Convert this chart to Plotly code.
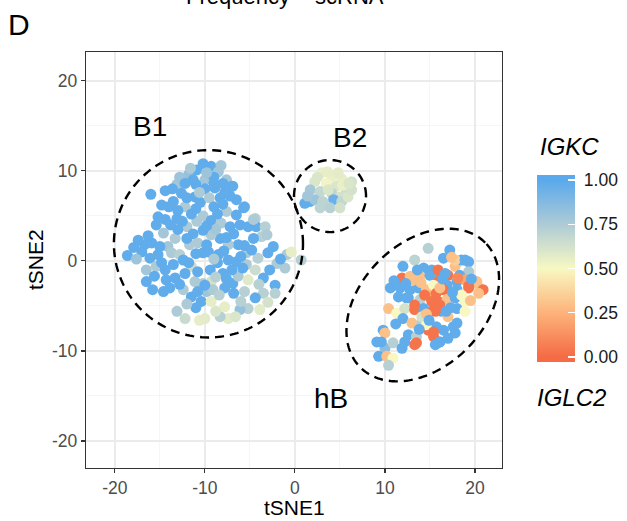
import numpy as np
import plotly.graph_objects as go

# ---------------- data ----------------
b1 = [(-16.0,7.4,.98),(-14.4,7.8,.98),(-13.1,8.5,.78),(-11.8,9.6,.82),(-10.9,10.1,.98),(-10.0,9.0,.78),
      (-12.6,7.5,.98),(-13.5,6.6,.98),(-12.2,6.0,.75),(-11.1,7.1,.98),(-15.2,4.9,.98),(-14.4,4.6,.98),
      (-13.1,4.7,.98),(-12.0,3.8,.75),(-10.9,4.4,.75),(-15.4,4.0,.98),(-14.6,3.1,.78),(-17.4,2.3,.98),
      (-16.7,1.8,.98),(-15.9,2.0,.98),(-18.6,0.6,.98),(-17.0,1.0,.98),(-16.1,0.3,.98),(-15.2,0.7,.98),
      (-14.1,1.6,.78),(-13.3,2.5,.75),(-13.7,0.9,.75),(-12.8,0.7,.72),(-11.7,1.8,.75),(-16.5,-1.0,.78),
      (-15.4,-0.6,.75),(-14.4,-1.0,.98),(-13.5,-0.4,.98),(-12.4,0.1,.98),(-11.5,-0.6,.65),(-10.2,0.9,.98),
      (-16.5,-2.3,.98),(-15.6,-1.7,.98),(-14.3,-2.1,.98),(-13.3,-1.9,.98),(-12.2,-1.4,.98),(-11.1,-2.3,.75),
      (-10.2,-2.5,.75),(-9.3,-2.3,.62),(-13.9,-3.0,.98),(-12.4,-3.2,.75),(-11.5,-4.0,.98),(-10.4,-4.5,.98),
      (-9.8,-3.4,.8),(-13.1,-5.6,.75),(-12.2,-6.4,.66),(-10.6,-6.6,.56),(-10.0,-6.4,.57),
      (-17.9,1.5,.98),(-16.3,2.8,.98),(-15.0,1.6,.98),(-14.8,-0.2,.98),(-17.6,0.2,.8),
      (-9.3,10.5,.98),(-8.5,9.9,.78),(-7.6,9.0,.78),(-6.9,8.3,.98),(-6.5,6.8,.98),(-5.6,6.0,.98),
      (-4.4,4.7,.72),(-8.9,8.1,.98),(-8.3,7.0,.98),(-7.6,5.5,.75),(-6.5,5.1,.98),(-6.1,4.0,.98),
      (-5.2,3.8,.98),(-4.3,3.8,.98),(-3.3,3.8,.72),(-3.7,2.7,.72),(-4.6,2.5,.98),(-2.4,1.6,.98),
      (-3.0,0.9,.98),(-0.9,0.7,.75),(-0.4,1.0,.56),(-2.0,-0.3,.75),(-1.1,-0.8,.75),(-4.1,0.3,.72),
      (-5.4,0.9,.75),(-6.3,1.8,.98),(-7.4,1.8,.75),(-8.3,2.5,.98),(-9.3,2.9,.75),(-9.6,1.0,.98),
      (-8.5,0.7,.98),(-7.4,0.1,.98),(-6.5,-0.1,.98),(-5.4,-0.4,.75),(-4.4,-1.0,.65),(-3.5,-1.9,.98),
      (-2.2,-2.7,.98),(-2.2,-3.6,.72),(-3.5,-3.6,.72),(-4.4,-4.1,.98),(-3.9,-5.4,.57),(-5.2,-5.3,.72),
      (-6.1,-5.4,.82),(-7.4,-6.4,.57),(-8.3,-6.2,.72),(-7.8,-5.1,.56),(-9.3,-4.5,.56),(-9.1,-3.2,.75),
      (-7.8,-3.0,.98),(-6.9,-2.5,.98),(-6.3,-1.7,.75),(-5.2,-2.1,.58),(-5.6,-3.4,.72),(-8.0,-1.4,.98),
      (-7.0,-1.0,.98),(-9.4,-1.0,.98),(-10.0,-2.7,.98),(0.7,0.1,.72),(-3.1,2.9,.75),(-4.6,4.6,.75),
      (-5.7,5.9,.98),(-7.0,8.3,.98),
      (-11.0,8.5,.98),(-10.0,8.0,.98),(-9.0,9.3,.98),(-8.0,8.6,.98),(-10.5,6.5,.98),(-9.5,7.0,.75),
      (-9.0,6.0,.98),(-8.0,6.3,.98),(-7.2,7.2,.98),(-11.5,5.2,.98),(-10.2,5.0,.75),(-9.3,4.5,.98),
      (-8.2,4.2,.75),(-7.2,3.8,.98),(-11.3,3.0,.98),(-10.2,3.4,.98),(-8.8,3.5,.78),(-7.6,2.6,.98),
      (-6.8,3.0,.98),(-5.6,1.7,.98),(-4.8,1.2,.98),(-10.8,2.0,.75),(-9.8,1.8,.98),(-11.0,0.8,.98),
      (-8.6,-0.2,.98),(-5.8,-0.8,.98),(-10.8,-1.2,.98),(-8.8,-1.8,.72),(-7.6,-2.0,.98),(-6.8,-3.6,.98),
      (-8.4,-3.8,.72),(-10.8,-3.4,.98),(-12.8,-2.6,.98),(-13.0,3.5,.98),(-12.0,2.5,.98),(-14.0,6.0,.98),
      (-12.8,9.3,.8),(-11.6,10.3,.75),(-10.2,10.8,.98),(-12.2,8.6,.98),
      (-9.8,9.8,.8),(-8.2,10.6,.78),(-11.3,9.0,.98),(-13.6,8.0,.98),(-10.6,7.6,.75),(-9.0,8.6,.98),
      (-7.8,7.6,.98),(-12.0,7.0,.98),(-14.8,6.2,.98),(-13.0,5.6,.98),(-11.0,5.8,.98),(-8.6,5.2,.98),
      (-9.8,3.9,.98),(-12.5,4.4,.98),(-13.8,4.0,.98),(-11.8,-0.2,.98),(-9.0,0.2,.75),(-7.9,1.1,.98),
      (-6.0,0.5,.98),(-4.0,-2.6,.72),(-6.0,-4.5,.72),(-8.8,-5.6,.6),(-11.0,-5.2,.98),(-12.0,-4.8,.75),
      (-14.6,-3.4,.98),(-15.8,-3.2,.98),(-2.8,-1.0,.98),(-1.6,0.2,.98),(-3.0,-4.6,.62),(-6.6,-6.2,.6)]

b2 = [(3.0,9.8,.55),(4.1,9.4,.55),(5.2,9.1,.56),(6.3,8.8,.62),(2.2,8.8,.6),(3.5,8.6,.52),(4.6,8.3,.6),
      (5.7,7.9,.65),(1.7,7.9,.77),(2.8,7.7,.68),(4.1,7.5,.7),(5.0,7.1,.62),(1.1,6.4,.98),(1.7,6.6,.98),
      (2.2,6.8,.8),(3.1,6.6,.7),(4.3,6.8,.95),(5.2,6.6,.68),(2.8,5.9,.7),(3.9,5.9,.72),(5.0,5.9,.62),
      (5.9,7.1,.6),(6.3,7.9,.62),(3.6,9.9,.56),(2.5,9.3,.6),(4.8,9.8,.57),(3.7,7.9,.6),(5.3,8.4,.55),
      (6.0,8.6,.6),(1.4,7.2,.78)]

hb = [(14.8,1.4,.72),(17.2,1.2,.98),(13.3,0.1,.7),(14.3,-0.8,.98),(15.2,-1.0,.98),(16.1,-1.4,.98),
      (17.0,-1.6,.03),(17.8,-0.6,.3),(18.5,0.1,.98),(19.3,-0.1,.98),(19.3,-1.2,.75),(18.3,-1.6,.98),
      (11.9,-1.9,.03),(12.8,-1.7,.3),(13.9,-1.7,.3),(15.0,-1.6,.98),(15.9,-2.3,.03),(16.9,-2.7,.98),
      (18.0,-2.3,.98),(18.9,-2.1,.2),(20.2,-2.3,.3),(20.7,-3.2,.03),(19.3,-3.0,.03),(18.0,-3.2,.98),
      (16.5,-3.2,.03),(10.6,-3.0,.98),(11.7,-3.0,.98),(12.8,-3.2,.98),(13.7,-3.0,.98),(14.6,-3.2,.3),
      (15.4,-2.7,.5),(11.5,-4.0,.98),(12.4,-4.1,.98),(13.9,-4.3,.72),(15.2,-4.3,.03),(15.9,-4.5,.03),
      (16.9,-4.3,.3),(17.8,-4.1,.98),(18.9,-4.5,.5),(18.0,-5.3,.98),(10.4,-5.3,.3),(11.3,-5.8,.5),
      (12.2,-5.3,.62),(13.3,-5.4,.03),(14.3,-5.3,.98),(15.4,-5.4,.03),(16.3,-5.6,.98),(17.0,-6.2,.3),
      (12.0,-6.4,.98),(13.0,-6.9,.3),(14.1,-6.9,.72),(14.8,-7.7,.03),(15.7,-7.3,.98),(16.5,-7.7,.98),
      (17.6,-7.3,.98),(17.8,-8.0,.98),(12.6,-8.2,.98),(13.5,-8.4,.72),(15.4,-8.4,.03),(16.1,-9.0,.98),
      (13.5,-9.1,.03),(9.8,-7.7,.98),(10.0,-8.0,.3),(9.1,-9.0,.98),(10.0,-9.7,.85),(10.9,-9.1,.72),
      (11.9,-9.7,.98),(9.3,-10.6,.98),(10.2,-10.6,.3),(10.9,-10.8,.5),(10.4,-11.6,.72),(15.6,-4.7,.03),
      (15.0,-4.0,.2),(15.7,-3.6,.03),(14.4,-3.8,.03),(16.1,-3.0,.3),(12.6,-4.1,.98),(13.3,-4.9,.03),
      (14.1,-6.2,.62),(14.6,-7.1,.5),(13.3,-9.3,.03),(9.6,-9.0,.98),(16.5,0.3,.98),(17.8,0.1,.35),
      (18.9,0.1,.98),(15.9,-1.0,.03),(16.7,-1.4,.98),(18.1,-1.9,.1),(20.2,-2.5,.3),(20.9,-3.2,.03),
      (19.3,-2.8,.03),(18.5,-3.8,.5),(20.4,-3.6,.3),(18.9,-5.6,.5),(18.0,-6.9,.98),(15.6,-5.6,.03),
      (15.2,-4.5,.03),(16.1,-4.9,.03),(15.4,-7.9,.03),(16.1,-9.0,.98),(15.6,-9.3,.98),
      (11.0,-2.2,.98),(12.0,-0.6,.98),(14.0,-2.4,.3),(17.3,-5.2,.98),(14.6,-5.9,.3),(16.8,-5.6,.98),
      (19.5,-4.4,.3),(13.0,-2.2,.3),(17.4,0.4,.3),
      (13.6,-1.0,.98),(16.4,-2.0,.98),(12.3,-2.5,.98),(17.5,-3.5,.98),(14.9,-6.6,.98),(11.2,-7.0,.98),
      (13.8,-7.6,.98),(12.2,-9.0,.98),(17.0,-8.6,.98),(19.6,-2.0,.98)]

b1_x = [p[0] for p in b1]; b1_y = [p[1] for p in b1]; b1_v = [p[2] for p in b1]
b2_x = [p[0] for p in b2]; b2_y = [p[1] for p in b2]; b2_v = [p[2] for p in b2]
hb_x = [p[0] for p in hb]; hb_y = [p[1] for p in hb]; hb_v = [p[2] for p in hb]

cluster_labels = ["B1", "B2", "hB"]
label_x = [-16.1, 6.1, 4.0]
label_y = [14.9, 13.7, -15.3]

# ellipse parameters: center x, center y, semi-axis a, semi-axis b, angle (deg)
ell_cx = [-9.6, 3.9, 14.2]
ell_cy = [1.9, 7.2, -4.9]
ell_a = [10.5, 4.0, 9.8]
ell_b = [10.4, 4.0, 6.9]
ell_ang = [0, 0, 45]

axis_ticks = [-20, -10, 0, 10, 20]
legend_breaks = [0.0, 0.25, 0.5, 0.75, 1.0]
legend_labels = ["0.00", "0.25", "0.50", "0.75", "1.00"]
legend_colors = ["#F46B45", "#FDB37A", "#F8F8C2", "#ADCBD6", "#5AA9EC"]

# ---------------- figure ----------------
ext = 0.028
cmin, cmax = -ext, 1 + ext
cscale = [[0.0, legend_colors[0]]]
for b, c in zip(legend_breaks, legend_colors):
    cscale.append([(b - cmin) / (cmax - cmin), c])
cscale.append([1.0, legend_colors[-1]])

all_x = b1_x + b2_x + hb_x
all_y = b1_y + b2_y + hb_y
all_v = b1_v + b2_v + hb_v

W, H = 627, 521
ML, MR, MT, MB = 86, 125, 52, 53
PW, PH = W - ML - MR, H - MT - MB

def px_x(px):
    return (px - ML) / PW

def px_y(py):
    return (H - MB - py) / PH

FONT = "Liberation Sans, Arial, sans-serif"

fig = go.Figure()
fig.add_trace(go.Scatter(
    x=all_x, y=all_y, mode="markers",
    marker=dict(size=11, color=all_v, colorscale=cscale, cmin=cmin, cmax=cmax,
                line=dict(width=0), opacity=1,
                colorbar=dict(
                    tickvals=legend_breaks, ticktext=["\u00a0" + s for s in legend_labels],
                    ticks="inside", tickcolor="white", ticklen=7, tickwidth=1.3,
                    outlinewidth=0, thickness=38, thicknessmode="pixels",
                    len=187, lenmode="pixels",
                    x=px_x(537), xanchor="left", xpad=0,
                    y=px_y(268.5), yanchor="middle", ypad=0,
                    tickfont=dict(size=17.5, color="#1A1A1A", family=FONT),
                )),
    hoverinfo="skip", showlegend=False,
))

shapes = []
t = np.linspace(0, 2 * np.pi, 200)
for cx, cy, a, b, ang in zip(ell_cx, ell_cy, ell_a, ell_b, ell_ang):
    th = np.deg2rad(ang)
    ex = cx + a * np.cos(t) * np.cos(th) - b * np.sin(t) * np.sin(th)
    ey = cy + a * np.cos(t) * np.sin(th) + b * np.sin(t) * np.cos(th)
    path = "M " + " L ".join(f"{xx:.3f},{yy:.3f}" for xx, yy in zip(ex, ey)) + " Z"
    shapes.append(dict(type="path", path=path, xref="x", yref="y",
                       line=dict(color="black", width=2.4, dash="9px,6px")))

annotations = []
for lab, lx, ly in zip(cluster_labels, label_x, label_y):
    annotations.append(dict(x=lx, y=ly, xref="x", yref="y", text=lab, showarrow=False,
                            font=dict(size=28, color="black", family=FONT)))

annotations += [
    dict(x=px_x(19), y=px_y(25), xref="paper", yref="paper", text="D", showarrow=False,
         xanchor="center", yanchor="middle", font=dict(size=30, color="black", family=FONT)),
    dict(x=px_x(285), y=px_y(11), xref="paper", yref="paper", text="Frequency ~ scRNA",
         showarrow=False, xanchor="center", yanchor="bottom",
         font=dict(size=22, color="black", family=FONT)),
    dict(x=0.5, y=px_y(507), xref="paper", yref="paper", text="tSNE1", showarrow=False,
         xanchor="center", yanchor="middle", font=dict(size=21, color="black", family=FONT)),
    dict(x=px_x(35), y=0.5, xref="paper", yref="paper", text="tSNE2", showarrow=False,
         textangle=-90, xanchor="center", yanchor="middle",
         font=dict(size=21, color="black", family=FONT)),
    dict(x=px_x(538), y=px_y(146), xref="paper", yref="paper", text="<i>IGKC</i>",
         showarrow=False, xanchor="left", yanchor="middle",
         font=dict(size=24, color="black", family=FONT)),
    dict(x=px_x(535), y=px_y(397), xref="paper", yref="paper", text="<i>IGLC2</i>",
         showarrow=False, xanchor="left", yanchor="middle",
         font=dict(size=24, color="black", family=FONT)),
]

axis_common = dict(
    tickvals=axis_ticks, ticktext=[str(v) for v in axis_ticks],
    showgrid=True, gridcolor="#EBEBEB", gridwidth=1.4,
    minor=dict(dtick=5, tick0=0, showgrid=True, gridcolor="#F4F4F4", gridwidth=0.8),
    zeroline=False, showline=True, linecolor="#333333", linewidth=1.3, mirror=True,
    ticks="outside", ticklen=4, tickwidth=1.2, tickcolor="#333333",
    tickfont=dict(size=17.5, color="#4D4D4D", family=FONT),
)

fig.update_layout(
    width=W, height=H, autosize=False,
    margin=dict(l=ML, r=MR, t=MT, b=MB, autoexpand=False),
    paper_bgcolor="white", plot_bgcolor="white",
    xaxis=dict(range=[-23.2, 23.0], **axis_common),
    yaxis=dict(range=[-23.0, 23.2], **axis_common),
    shapes=shapes, annotations=annotations,
    font=dict(family=FONT),
)

fig.write_html("out.html", config={"displayModeBar": False, "staticPlot": True},
               post_script="document.body.style.margin='0';document.body.style.overflow='hidden';")
